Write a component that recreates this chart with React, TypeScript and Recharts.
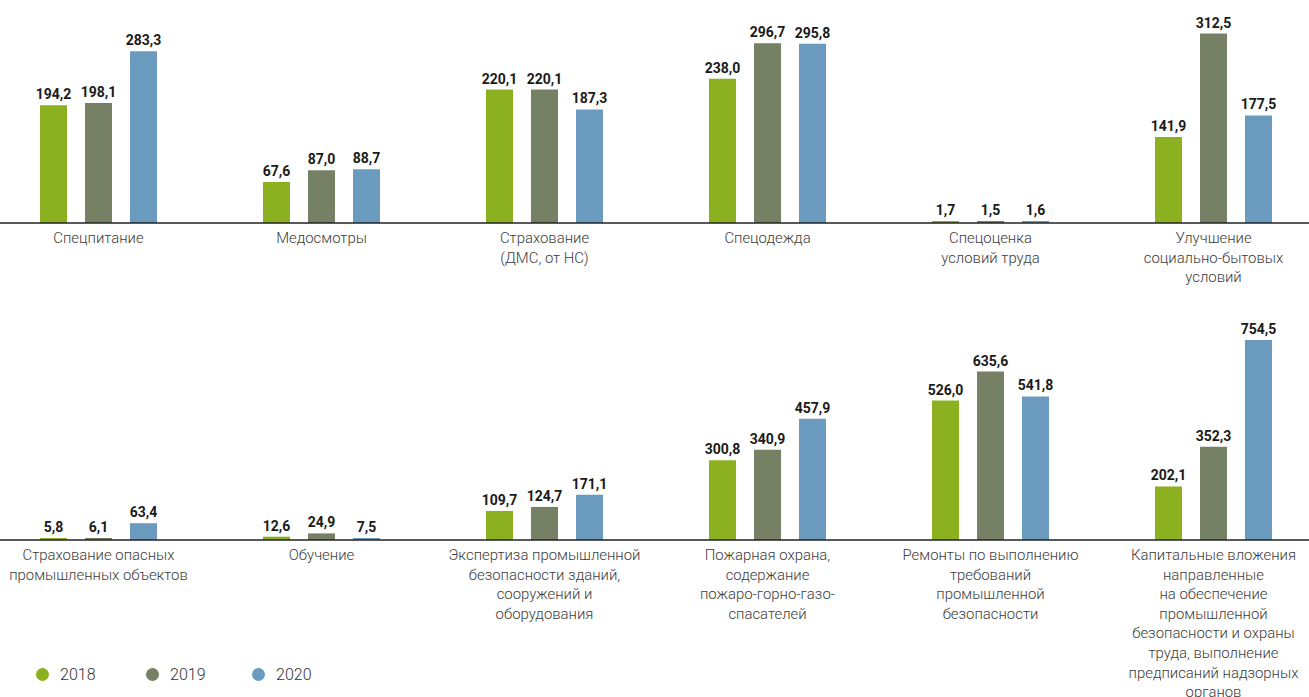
import React from "react";
import { BarChart, Bar, XAxis, YAxis, LabelList } from "recharts";

const categoriesTop = [
  "Спецпитание",
  "Медосмотры",
  "Страхование\n(ДМС, от НС)",
  "Спецодежда",
  "Спецоценка\nусловий труда",
  "Улучшение\nсоциально-бытовых\nусловий",
];
const top2018 = [194.2, 67.6, 220.1, 238.0, 1.7, 141.9];
const top2019 = [198.1, 87.0, 220.1, 296.7, 1.5, 312.5];
const top2020 = [283.3, 88.7, 187.3, 295.8, 1.6, 177.5];

const categoriesBottom = [
  "Страхование опасных\nпромышленных объектов",
  "Обучение",
  "Экспертиза промышленной\nбезопасности зданий,\nсооружений и\nоборудования",
  "Пожарная охрана,\nсодержание\nпожаро-горно-газо-\nспасателей",
  "Ремонты по выполнению\nтребований\nпромышленной\nбезопасности",
  "Капитальные вложения\nнаправленные\nна обеспечение\nпромышленной\nбезопасности и охраны\nтруда, выполнение\nпредписаний надзорных\nорганов",
];
const bottom2018 = [5.8, 12.6, 109.7, 300.8, 526.0, 202.1];
const bottom2019 = [6.1, 24.9, 124.7, 340.9, 635.6, 352.3];
const bottom2020 = [63.4, 7.5, 171.1, 457.9, 541.8, 754.5];

const seriesNames = ["2018", "2019", "2020"];
const seriesColors = ["#8bb120", "#768064", "#6a9bbf"];

const FONT = "Roboto, 'Open Sans', sans-serif";

const topData = categoriesTop.map((c, i) => ({
  name: c,
  "2018": top2018[i],
  "2019": top2019[i],
  "2020": top2020[i],
}));
const bottomData = categoriesBottom.map((c, i) => ({
  name: c,
  "2018": bottom2018[i],
  "2019": bottom2019[i],
  "2020": bottom2020[i],
}));

const fmt = (v: any) => Number(v).toFixed(1).replace(".", ",");

const MultiTick = (props: any) => {
  const { x, y, payload } = props;
  const lines = String(payload.value).split("\n");
  return (
    <text
      x={x}
      y={y + 20}
      textAnchor="middle"
      fill="#3c3c3c"
      fontSize={14.9}
      fontFamily={FONT}
      fontWeight={300}
    >
      {lines.map((l: string, i: number) => (
        <tspan key={i} x={x} dy={i === 0 ? 0 : 19.6}>
          {l}
        </tspan>
      ))}
    </text>
  );
};

const Row = ({ data, domainMax, height, marginTop, axisHeight }: any) => (
  <BarChart
    width={1338}
    height={height}
    data={data}
    margin={{ top: marginTop, right: 0, left: 0, bottom: 0 }}
    barSize={27}
    barGap={18}
    barCategoryGap={0}
  >
    <XAxis
      dataKey="name"
      interval={0}
      tickLine={false}
      tickSize={0}
      tickMargin={0}
      height={axisHeight}
      axisLine={{ stroke: "#222", strokeWidth: 1.3 }}
      tick={<MultiTick />}
    />
    <YAxis hide domain={[0, domainMax]} />
    {seriesNames.map((s, i) => (
      <Bar key={s} dataKey={s} fill={seriesColors[i]} isAnimationActive={false} minPointSize={2}>
        <LabelList
          dataKey={s}
          position="top"
          offset={6}
          formatter={fmt}
          fill="#1a1a1a"
          fontSize={14}
          fontWeight={700}
          fontFamily={FONT}
        />
      </Bar>
    ))}
  </BarChart>
);

export default function App() {
  return (
    <div
      style={{
        position: "absolute",
        left: 0,
        top: 0,
        width: 1309,
        height: 697,
        overflow: "hidden",
        background: "#fff",
      }}
    >
      <div style={{ position: "absolute", left: -13.5, top: 0 }}>
        <Row data={topData} domainMax={330} height={300} marginTop={23} axisHeight={77} />
      </div>
      <div style={{ position: "absolute", left: -13.5, top: 300 }}>
        <Row data={bottomData} domainMax={800} height={397} marginTop={28} axisHeight={157} />
      </div>
      <div
        style={{
          position: "absolute",
          left: 36,
          top: 664,
          display: "flex",
          fontFamily: FONT,
          fontSize: 16,
          fontWeight: 300,
          color: "#333",
        }}
      >
        {seriesNames.map((s, i) => (
          <div
            key={s}
            style={{ display: "flex", alignItems: "center", width: [110, 106, 100][i], height: 20 }}
          >
            <span
              style={{
                display: "inline-block",
                width: 13,
                height: 13,
                borderRadius: "50%",
                background: seriesColors[i],
                marginRight: 11,
              }}
            />
            <span>{s}</span>
          </div>
        ))}
      </div>
    </div>
  );
}
